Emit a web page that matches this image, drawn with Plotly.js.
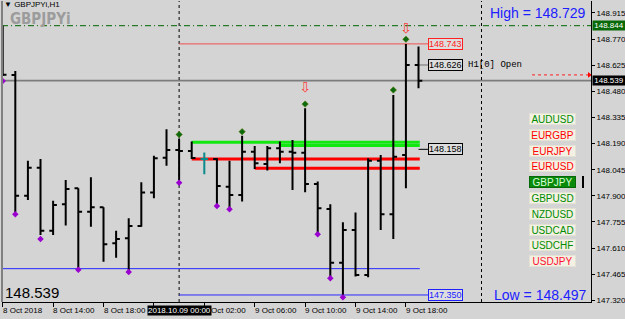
<!DOCTYPE html>
<html><head><meta charset="utf-8">
<script src="https://cdn.plot.ly/plotly-3.0.1.min.js"></script>
<style>html,body{margin:0;padding:0;background:#d4d4d4;}#chart{width:625px;height:319px;}</style>
</head><body><div id="chart"></div>
<script>
// ---- data (GBPJPYi, H1) ----
const barTimes = [
 '2018.10.08 10:00','2018.10.08 11:00','2018.10.08 12:00','2018.10.08 13:00','2018.10.08 14:00','2018.10.08 15:00','2018.10.08 16:00',
 '2018.10.08 17:00','2018.10.08 18:00','2018.10.08 19:00','2018.10.08 20:00','2018.10.08 21:00','2018.10.08 22:00','2018.10.08 23:00',
 '2018.10.09 00:00','2018.10.09 01:00','2018.10.09 02:00','2018.10.09 03:00','2018.10.09 04:00','2018.10.09 05:00','2018.10.09 06:00',
 '2018.10.09 07:00','2018.10.09 08:00','2018.10.09 09:00','2018.10.09 10:00','2018.10.09 11:00','2018.10.09 12:00','2018.10.09 13:00',
 '2018.10.09 14:00','2018.10.09 15:00','2018.10.09 16:00','2018.10.09 17:00','2018.10.09 18:00','2018.10.09 19:00'];
const openP  = [148.800,148.571,147.901,148.056,147.707,147.853,147.942,147.812,147.837,147.637,147.665,147.733,147.918,148.112,148.155,148.149,148.105,148.105,147.951,147.905,148.145,148.077,148.164,148.145,148.139,147.966,147.827,147.529,147.711,147.461,148.094,147.798,148.127,148.626];
const highP  = [148.844,148.593,148.094,148.105,147.873,147.988,147.942,148.003,147.837,147.707,147.776,147.975,148.123,148.269,148.216,148.201,148.140,148.108,148.094,148.234,148.177,148.177,148.201,148.210,148.386,147.979,147.853,147.753,147.807,148.109,148.127,148.460,148.743,148.729];
const lowP   = [148.565,147.811,147.877,147.683,147.683,147.735,147.500,147.729,147.535,147.557,147.489,147.729,147.887,148.067,147.988,148.105,148.020,147.849,147.831,147.868,148.049,148.040,148.081,147.933,147.920,147.692,147.448,147.350,147.452,147.448,147.711,147.661,147.942,148.497];
const closeP = [148.572,147.901,148.056,147.707,147.849,147.938,147.812,147.837,147.631,147.661,147.733,147.918,148.109,148.155,148.149,148.110,148.105,147.955,147.905,148.145,148.081,148.164,148.145,148.139,147.966,147.831,147.529,147.711,147.461,148.094,147.798,148.117,148.626,148.539];
const dojiBar = 16;

const lowFractalIdx   = [0,1,3,6,10,14,17,18,25,26,27];
const lowFractalPrice = [148.537,147.798,147.661,147.490,147.478,147.973,147.844,147.826,147.687,147.443,147.337];
const highFractalIdx   = [14,19,24,31,32];
const highFractalPrice = [148.240,148.256,148.409,148.487,148.769];
const arrowIdx   = [24,32];
const arrowPrice = [148.498,148.822];

const yTickVals = [147.320,147.465,147.610,147.755,147.900,148.045,148.190,148.335,148.480,148.625,148.770,148.915];
const yTickText = ['147.320','147.465','147.610','147.755','147.900','148.045','148.190','148.335','148.480','148.625','148.770','148.915'];
const xTickIdx  = [0,4,8,12,16,20,24,28,32];
const xLabelIdx  = [0,4,8,20,24,28,32];
const xLabelText = ['8 Oct 2018','8 Oct 14:00','8 Oct 18:00','9 Oct 06:00','9 Oct 10:00','9 Oct 14:00','9 Oct 18:00'];
const partialLabelIdx = 16, partialLabelText = 'Oct 02:00';   // "9 " hidden under the date box
const daySepIdx = [14,38];
const daySepLabel = '2018.10.09 00:00';

const prevHigh = 148.844, bidPrice = 148.539, dayHigh = 148.743, dayLow = 147.350;
const supportLevel = 147.496, pivotLevel = 148.158, h1Open = 148.626, askPrice = 148.571;
const greenLevels = [148.198,148.179], greenStart = [15,22];
const redLevels   = [148.105,148.053], redStart   = [15,20];
const highText = 'High = 148.729', lowText = 'Low = 148.497', bigPrice = '148.539';
const symbols = ['AUDUSD','EURGBP','EURJPY','EURUSD','GBPJPY','GBPUSD','NZDUSD','USDCAD','USDCHF','USDJPY'];
const symbolColors = ['#008c00','#ff0000','#ff0000','#ff0000','#d8ffd8','#008c00','#008c00','#008c00','#008c00','#ff1030'];
const activeSymbol = 'GBPJPY';

// ---- geometry helpers (plot area: x 2..591, y 1..302) ----
const PX = p => (p - 2) / 589;
const PY = p => (302 - p) / 301;
const SANS = 'Liberation Sans, Arial, sans-serif';
const BG = '#d4d4d4';

const idx = barTimes.map((t,i)=>i);
const mainIdx = idx.filter(i => i !== dojiBar);

const traces = [
 {type:'ohlc', x: mainIdx, open: mainIdx.map(i=>openP[i]), high: mainIdx.map(i=>highP[i]),
  low: mainIdx.map(i=>lowP[i]), close: mainIdx.map(i=>closeP[i]), tickwidth:0.3,
  increasing:{line:{color:'#000000',width:2}}, decreasing:{line:{color:'#000000',width:2}},
  hoverinfo:'skip', showlegend:false},
 {type:'ohlc', x:[dojiBar], open:[openP[dojiBar]], high:[highP[dojiBar]], low:[lowP[dojiBar]], close:[closeP[dojiBar]], tickwidth:0.3,
  increasing:{line:{color:'#0a8a8a',width:2}}, decreasing:{line:{color:'#0a8a8a',width:2}},
  hoverinfo:'skip', showlegend:false},
 {type:'scatter', mode:'markers', x: lowFractalIdx, y: lowFractalPrice,
  marker:{symbol:'diamond', size:5, color:'#9a00d0'}, hoverinfo:'skip', showlegend:false},
 {type:'scatter', mode:'markers', x: highFractalIdx, y: highFractalPrice,
  marker:{symbol:'diamond', size:5, color:'#0b6a0b', line:{color:'#6b7b10', width:0.5}}, hoverinfo:'skip', showlegend:false},
 {type:'scatter', mode:'text', x: arrowIdx, y: arrowPrice, text: arrowIdx.map(()=> '⇩'),
  textfont:{family:'DejaVu Sans', size:14, color:'#ff3a3a'}, hoverinfo:'skip', showlegend:false},
 {type:'scatter', mode:'markers', x:[46.55], y:[askPrice], cliponaxis:false,
  marker:{symbol:'triangle-right', size:5, color:'#ff0000'}, hoverinfo:'skip', showlegend:false}
];

const shapes = [];
const hline = (y, x0, x1, color, width, dash, xref, layer) => shapes.push({type:'line', xref: xref||'x', yref:'y', x0, x1, y0:y, y1:y,
  line:{color, width, dash: dash||'solid'}, layer: layer||'below'});
hline(prevHigh, 0, 1, '#006400', 1, '6px,3px,1px,3px', 'paper');
hline(bidPrice, 0, 1, '#7c7c7c', 1.6, 'solid', 'paper');
hline(dayHigh, daySepIdx[0], 33.75, '#f05050', 1);
hline(supportLevel, -0.06, 33.1, '#2828ff', 1);
hline(dayLow, daySepIdx[0], 33.75, '#2828ff', 1);
greenLevels.forEach((v,k)=> hline(v, greenStart[k], 33.1, '#10e810', 3));
redLevels.forEach((v,k)=> hline(v, redStart[k], 33.1, '#ff0000', 3));
hline(h1Open, 33, 33.75, '#707070', 1);
hline(pivotLevel, 33, 33.75, '#000000', 1);
hline(askPrice, PX(532), 0.995, '#ff2020', 1, '3px,3px', 'paper');
daySepIdx.forEach(d => shapes.push({type:'line', xref:'x', yref:'paper', x0:d, x1:d, y0:0, y1:1,
  line:{color:'#000000', width:1, dash:'3px,3px'}, layer:'below'}));
shapes.push({type:'line', xref:'paper', yref:'paper', x0:0, x1:0, y0:0, y1:1, line:{color:'#808080', width:2}});
shapes.push({type:'line', xref:'paper', yref:'paper', x0:PX(583), x1:PX(583), y0:PY(176), y1:PY(188), line:{color:'#000000', width:2}});

const ann = [];
// watermark + title
ann.push({xref:'paper', yref:'paper', x:PX(9), y:PY(19), xanchor:'left', yanchor:'middle', showarrow:false, borderpad:0,
  text:'<b>GBPJPYi</b>', font:{family:'Liberation Sans Narrow, DejaVu Sans Condensed, sans-serif', size:15, color:'#9c9c9c'}});
ann.push({xref:'paper', yref:'paper', x:PX(3), y:PY(5), xanchor:'left', yanchor:'middle', showarrow:false, borderpad:0,
  text:'▼ GBPJPYi,H1', font:{family:SANS, size:8, color:'#000000'}});
// big texts
ann.push({xref:'paper', yref:'paper', x:PX(588), y:PY(13), xanchor:'right', yanchor:'middle', showarrow:false,
  text:highText, font:{family:SANS, size:14, color:'#2020ff'}});
ann.push({xref:'paper', yref:'paper', x:PX(588), y:PY(295), xanchor:'right', yanchor:'middle', showarrow:false,
  text:lowText, font:{family:SANS, size:14, color:'#2020ff'}});
ann.push({xref:'paper', yref:'paper', x:PX(3), y:PY(292.5), xanchor:'left', yanchor:'middle', showarrow:false,
  text:bigPrice, font:{family:SANS, size:15, color:'#000000'}});
// in-chart price boxes
const box = (v, col) => ann.push({xref:'x', yref:'y', x:33.75, y:v, xanchor:'left', yanchor:'middle', showarrow:false,
  text: v.toFixed(3), font:{family:SANS, size:9, color:col}, bordercolor:col, borderwidth:1, borderpad:0, bgcolor:'#dedede'});
box(dayHigh, '#ff2020'); box(h1Open, '#000000'); box(pivotLevel, '#000000'); box(dayLow, '#2020ff');
ann.push({xref:'x', yref:'y', x:36.75, y:h1Open, xanchor:'left', yanchor:'middle', showarrow:false,
  text:'H1[0] Open', font:{family:'Liberation Mono, Courier New, monospace', size:9, color:'#000000'}});
// symbol buttons
symbols.forEach((s,k)=>{
  const act = s === activeSymbol;
  ann.push({xref:'paper', yref:'paper', x:PX(552), y:PY(119 + 15.8*k), xanchor:'center', yanchor:'middle', showarrow:false,
    text:s, width:45, height:10, borderpad:0, borderwidth:1,
    bgcolor: act ? '#0a8a0a' : '#f3f1e4', bordercolor: act ? '#066806' : '#e4e2d4',
    font:{family:SANS, size:10, color: symbolColors[k]}});
});
// right axis price tags
ann.push({xref:'paper', yref:'y', x:1, y:prevHigh, xanchor:'left', yanchor:'middle', xshift:1, showarrow:false,
  text:prevHigh.toFixed(3), width:32, height:9, borderpad:0, bgcolor:'#0a6a0a', font:{family:SANS, size:8, color:'#ffffff'}});
ann.push({xref:'paper', yref:'y', x:1, y:bidPrice, xanchor:'left', yanchor:'middle', xshift:1, showarrow:false,
  text:bidPrice.toFixed(3), width:32, height:9, borderpad:0, bgcolor:'#000000', font:{family:SANS, size:8, color:'#ffffff'}});
// x labels (left aligned at tick)
xLabelIdx.forEach((t,k)=> ann.push({xref:'x', yref:'paper', x:t, y:0, xanchor:'left', yanchor:'top', yshift:-2, xshift:-2,
  showarrow:false, text:xLabelText[k], font:{family:SANS, size:8, color:'#000000'}}));
ann.push({xref:'x', yref:'paper', x:partialLabelIdx, y:0, xanchor:'left', yanchor:'top', yshift:-2, xshift:5,
  showarrow:false, text:partialLabelText, font:{family:SANS, size:8, color:'#000000'}});
ann.push({xref:'x', yref:'paper', x:daySepIdx[0], y:0, xanchor:'center', yanchor:'top', yshift:-3, showarrow:false,
  text:daySepLabel, bgcolor:'#000000', borderpad:0, height:9, font:{family:SANS, size:8, color:'#ffffff'}});

const layout = {
  width:625, height:319, margin:{l:2, r:34, t:1, b:17},
  paper_bgcolor:BG, plot_bgcolor:BG, showlegend:false, dragmode:false,
  xaxis:{type:'linear', range:[-0.056, 46.69], showgrid:false, zeroline:false, showline:true, linecolor:'#000000', linewidth:1,
    ticks:'outside', ticklen:4, tickcolor:'#000000', tickmode:'array', tickvals:xTickIdx, showticklabels:false,
    rangeslider:{visible:false}, fixedrange:true},
  yaxis:{side:'right', range:[147.311, 148.981], showgrid:false, zeroline:false, showline:true, linecolor:'#000000', linewidth:1,
    ticks:'outside', ticklen:3, tickcolor:'#000000', tickmode:'array', tickvals:yTickVals, ticktext:yTickText,
    tickfont:{family:SANS, size:8, color:'#000000'}, fixedrange:true},
  shapes, annotations: ann
};
Plotly.newPlot('chart', traces, layout, {staticPlot:true, displayModeBar:false});
</script>
</body></html>
